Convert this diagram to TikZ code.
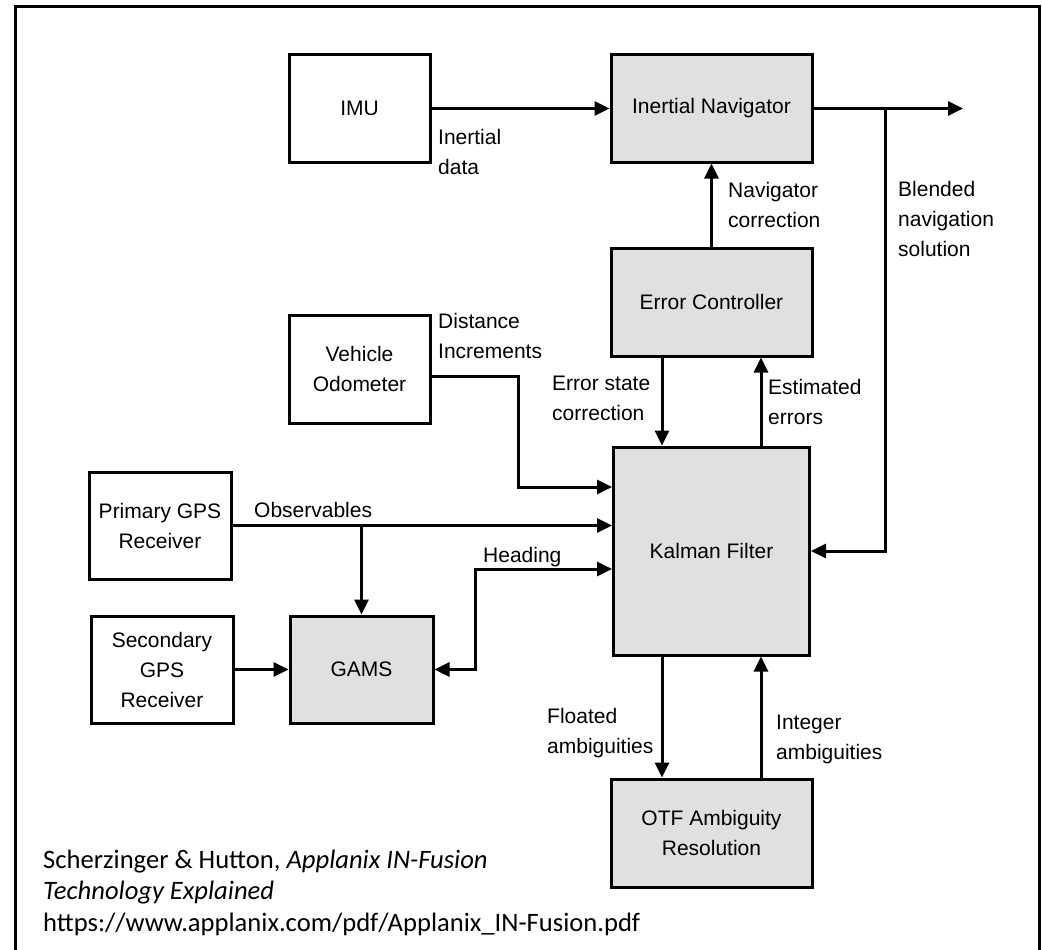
\documentclass[tikz,border=0pt]{standalone}
\usepackage{fontspec}
\setmainfont{Liberation Sans}
\newfontfamily\citefont{Carlito}
\usetikzlibrary{arrows.meta,calc}
\definecolor{boxgray}{RGB}{224,224,224}
\begin{document}
\begin{tikzpicture}[x=1pt,y=-1pt,
  blk/.style={draw, line width=3pt, inner sep=0pt, align=center,
    font=\fontsize{21}{30}\selectfont},
  gblk/.style={blk, fill=boxgray},
  lbl/.style={inner sep=0pt, anchor=west, align=left,
    font=\fontsize{21}{30}\selectfont},
  conn/.style={line width=3pt, -{Triangle[length=15pt,width=14pt]}},
  conn2/.style={line width=3pt, {Triangle[length=15pt,width=14pt]}-{Triangle[length=15pt,width=14pt]}},
  plain/.style={line width=3pt}
]
\useasboundingbox (0,0) rectangle (1042,950);
\fill[white] (0,0) rectangle (1042,950);
\draw[line width=3pt] (15,960) -- (15,7) -- (1039,7) -- (1039,960);

% blocks
\node[blk, minimum width=141pt, minimum height=107pt] (imu) at (359.5,108.5) {IMU};
\node[gblk, minimum width=201pt, minimum height=107pt] (inav) at (711.5,108.5) {Inertial Navigator};
\node[gblk, minimum width=201pt, minimum height=108pt] (ec) at (711.5,302) {Error Controller};
\node[blk, minimum width=141pt, minimum height=108pt] (odo) at (359.5,369) {Vehicle\\Odometer};
\node[gblk, minimum width=196pt, minimum height=208pt] (kf) at (711.5,551) {Kalman Filter};
\node[blk, minimum width=142pt, minimum height=107pt] (pgps) at (160,525.5) {Primary GPS\\Receiver};
\node[blk, minimum width=142pt, minimum height=107pt] (sgps) at (162,669.5) {Secondary\\GPS\\Receiver};
\node[gblk, minimum width=143pt, minimum height=107pt] (gams) at (361.5,669.5) {GAMS};
\node[gblk, minimum width=201pt, minimum height=108pt] (otf) at (711.5,833) {OTF Ambiguity\\Resolution};

% helper coordinates
\coordinate (outp) at (963,108.5);
\coordinate (blend) at (885,108.5);
\coordinate (odoc) at (518,487);
\coordinate (hdg) at (475,569);

% connectors
\draw[conn] (imu) -- (inav);
\draw[conn] (inav.east) -- (outp);
\draw[conn] (blend) |- (kf.east);
\draw[conn] (ec) -- (inav);
\draw[conn] ([xshift=-49.5pt]ec.south) -- ([xshift=-49.5pt]kf.north);
\draw[conn] ([xshift=49.5pt]kf.north) -- ([xshift=49.5pt]ec.south);
\draw[conn] ([yshift=-7pt]odo.east) -| (odoc) -- (odoc -| kf.west);
\draw[conn] (pgps.east) -- (pgps.east -| kf.west);
\draw[conn] (pgps.east -| gams.north) -- (gams.north);
\draw[conn2] (gams.east) -| (hdg) -- (hdg -| kf.west);
\draw[conn] (sgps) -- (gams);
\draw[conn] ([xshift=-49.5pt]kf.south) -- ([xshift=-49.5pt]otf.north);
\draw[conn] ([xshift=49.5pt]otf.north) -- ([xshift=49.5pt]kf.south);

% labels
\node[lbl] (l1) at (438,152) {Inertial\\data};
\node[lbl] (l2) at (728,205) {Navigator\\correction};
\node[lbl] (l3) at (898,219) {Blended\\navigation\\solution};
\node[lbl] (l4) at (438,335.5) {Distance\\Increments};
\node[lbl] (l5) at (552,398) {Error state\\correction};
\node[lbl] (l6) at (768,402) {Estimated\\errors};
\node[lbl] (l7) at (254,510) {Observables};
\node[lbl] (l8) at (483,557) {Heading};
\node[lbl] (l9) at (547,733) {Floated\\ambiguities};
\node[lbl] (l10) at (776,739.5) {Integer\\ambiguities};

% citation
\node[inner sep=0pt, anchor=west, align=left, font=\citefont\fontsize{26.6}{31.5}\selectfont] (cite) at (43,892.5)
  {Scherzinger \& Hutton, \textit{Applanix IN-Fusion}\\\textit{Technology Explained}\\https://www.applanix.com/pdf/Applanix\_IN-Fusion.pdf};
\end{tikzpicture}
\end{document}
